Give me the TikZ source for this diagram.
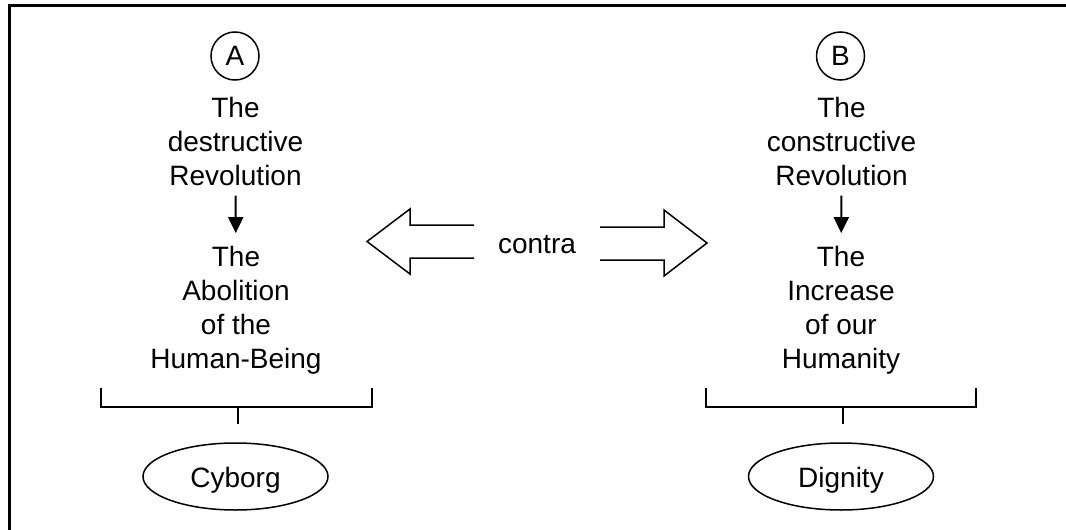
\documentclass[tikz,border=0pt]{standalone}
\usepackage{fontspec}
\setmainfont{Liberation Sans}
\usetikzlibrary{shapes.geometric,arrows.meta}
\begin{document}
\begin{tikzpicture}[x=1pt,y=-1pt,
  txt/.style={font=\fontsize{28}{34}\selectfont, inner sep=0pt, align=center},
  letter/.style={circle, draw, line width=1.5pt, minimum size=48pt, inner sep=0pt, font=\fontsize{28}{34}\selectfont},
  oval/.style={ellipse, draw, line width=1.5pt, minimum width=185pt, minimum height=67pt, inner sep=0pt,
    font=\fontsize{28}{34}\selectfont, text height=22pt, text depth=1pt},
  downarrow/.style={line width=2pt, -{Triangle[length=16pt,width=15pt]}, shorten <=10pt, shorten >=12.5pt},
  hollow/.style={line width=1.5pt, line join=miter},
  brack/.style={line width=2pt}
]
\useasboundingbox (0,0) rectangle (1066,530);
% frame (cropped)
\draw[line width=3.6pt, line join=miter] (9.5,530) -- (9.5,5.6) -- (1066,5.6);

% left column
\node[letter] (cA) at (235,56) {A};
\node[txt, anchor=north] (revA) at (235.5,96.6) {The\\destructive\\Revolution};
\node[txt, anchor=north] (resA) at (236,245.6) {The\\Abolition\\of the\\Human-Being};
\draw[downarrow] (revA) -- (resA);
\coordinate (aL1) at (101,388); \coordinate (aL2) at (101,407);
\coordinate (aR1) at (372,388); \coordinate (aR2) at (372,407);
\coordinate (aT1) at (238,407); \coordinate (aT2) at (238,424);
\draw[brack] (aL1) -- (aL2) -- (aR2) -- (aR1);
\draw[brack] (aT1) -- (aT2);
\node[oval] (cyb) at (235.5,476.5) {Cyborg};

% right column
\node[letter] (cB) at (840.5,56) {B};
\node[txt, anchor=north] (revB) at (841.5,96.6) {The\\constructive\\Revolution};
\node[txt, anchor=north] (resB) at (841,245.6) {The\\Increase\\of our\\Humanity};
\draw[downarrow] (revB) -- (resB);
\coordinate (bL1) at (706,388); \coordinate (bL2) at (706,407);
\coordinate (bR1) at (976,388); \coordinate (bR2) at (976,407);
\coordinate (bT1) at (843,407); \coordinate (bT2) at (843,424);
\draw[brack] (bL1) -- (bL2) -- (bR2) -- (bR1);
\draw[brack] (bT1) -- (bT2);
\node[oval] (dig) at (841,476.5) {Dignity};

% middle
\node[txt, anchor=base] (contra) at (537,253) {contra};
\draw[hollow] (474,225) -- (410,225) -- (410,209) -- (367,241.5) -- (410,274) -- (410,258) -- (474,258);
\draw[hollow] (600,227) -- (664,227) -- (664,210) -- (707,243) -- (664,276) -- (664,260) -- (600,260);
\end{tikzpicture}
\end{document}
